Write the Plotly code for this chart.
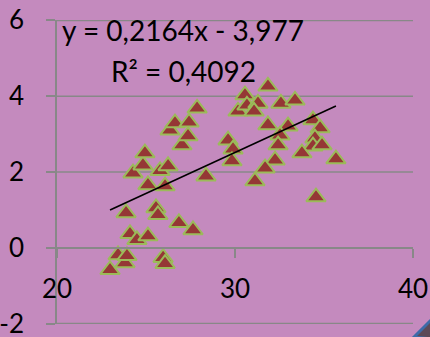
import plotly.graph_objects as go

# Scatter observations
x_vals = [22.98, 23.43, 23.82, 23.93, 23.88, 24.10, 24.49, 25.11, 24.27, 24.83,
          24.94, 25.11, 25.56, 25.67, 25.79, 26.24, 26.07, 25.96, 26.07, 26.85,
          27.64, 27.02, 26.35, 26.63, 27.42, 27.36, 27.87, 28.37, 29.61, 29.89,
          29.83, 30.56, 30.17, 30.67, 31.29, 31.07, 31.85, 32.58, 33.37, 31.85,
          32.98, 32.53, 32.42, 32.25, 31.69, 31.12, 34.38, 34.78, 34.49, 34.38,
          34.89, 33.76, 35.67, 34.55]
y_vals = [-0.58, -0.19, -0.40, -0.21, 0.92, 0.37, 0.21, 0.31, 1.97, 2.18,
          2.50, 1.66, 1.05, 0.87, 2.03, 2.16, 1.63, -0.26, -0.42, 0.66,
          0.47, 2.71, 3.10, 3.29, 3.31, 2.95, 3.68, 1.89, 2.84, 2.60,
          2.29, 4.03, 3.60, 3.76, 3.81, 3.60, 4.26, 3.81, 3.89, 3.24,
          3.21, 2.97, 2.71, 2.31, 2.10, 1.76, 3.37, 3.16, 2.89, 2.68,
          2.71, 2.50, 2.34, 1.34]

# Linear trend (as displayed)
slope = 0.2164
intercept = -3.977
r_squared = 0.4092

x_ticks = [20, 30, 40]
y_ticks = [-2, 0, 2, 4, 6]

BG = "#C48ABE"
GRID = "#888888"
FONT = "Lato, Calibri, sans-serif"

# plot area in pixels
L, R, T, B = 57, 17, 20, 13
W, H = 430, 337
PW, PH = W - L - R, H - T - B

x_lo, x_hi = min(x_vals), max(x_vals)
trend_x = [x_lo, x_hi]
trend_y = [slope * v + intercept for v in trend_x]

fig = go.Figure()

# horizontal gridlines (the x axis itself sits on y = 0)
for yv in y_ticks:
    if yv == 0:
        continue
    fig.add_shape(type="line", xref="x domain", yref="y", x0=0, x1=1, y0=yv, y1=yv,
                  line=dict(color=GRID, width=1.5), layer="below")

fig.add_trace(go.Scatter(
    x=x_vals, y=y_vals, mode="markers",
    marker=dict(symbol="triangle-up", size=17, color="#953735",
                line=dict(color="#9BBB59", width=2)),
    showlegend=False, hoverinfo="skip"))
fig.add_trace(go.Scatter(
    x=trend_x, y=trend_y, mode="lines",
    line=dict(color="black", width=1.6),
    showlegend=False, hoverinfo="skip"))

def fmt(v, nd):
    return f"{v:.{nd}f}".replace(".", ",")

eq_text = f"y = {fmt(slope, 4)}x - {fmt(-intercept, 3)}"
r2_text = f"R² = {fmt(r_squared, 4)}"

def px_to_domain(px, py):
    return (px - L) / PW, (H - B - py) / PH

for txt, (cx, cy) in [(eq_text, (183, 30)), (r2_text, (183, 71))]:
    dx, dy = px_to_domain(cx, cy)
    fig.add_annotation(x=dx, y=dy, xref="x domain", yref="y domain", text=txt,
                       xanchor="center", yanchor="middle",
                       showarrow=False, font=dict(size=28, color="black", family=FONT))

# corner decoration
p1 = px_to_domain(414, 337)
p2 = px_to_domain(432, 319)
p3 = px_to_domain(432, 339)
fig.add_shape(type="path", xref="paper", yref="paper",
              path=f"M {p1[0]},{p1[1]} L {p2[0]},{p2[1]} L {p3[0]},{p3[1]} Z",
              fillcolor="#5C4A57", line=dict(color="#3D6BA8", width=3), layer="above")

fig.update_layout(
    template="none",
    width=W, height=H,
    margin=dict(l=L, r=R, t=T, b=B, autoexpand=False),
    paper_bgcolor=BG, plot_bgcolor=BG,
    font=dict(family=FONT, size=26, color="black"),
    xaxis=dict(range=[20, 40], tickvals=x_ticks, ticktext=[str(t) for t in x_ticks],
               anchor="free", position=0.25, showgrid=False, zeroline=False,
               automargin=False, ticklabeloverflow="allow",
               showline=True, linecolor=GRID, linewidth=1.5,
               ticks="outside", ticklen=9, tickwidth=1.5, tickcolor=GRID,
               ticklabelstandoff=9, tickfont=dict(size=26, color="black")),
    yaxis=dict(range=[-2.01, 6.01], tickvals=y_ticks, ticktext=[str(t) for t in y_ticks],
               showgrid=False, zeroline=False,
               automargin=False, ticklabeloverflow="allow",
               showline=True, linecolor=GRID, linewidth=1.5,
               ticks="outside", ticklen=9, tickwidth=1.5, tickcolor=GRID,
               ticklabelstandoff=17, tickfont=dict(size=26, color="black")),
)

fig.write_html("out.html")
